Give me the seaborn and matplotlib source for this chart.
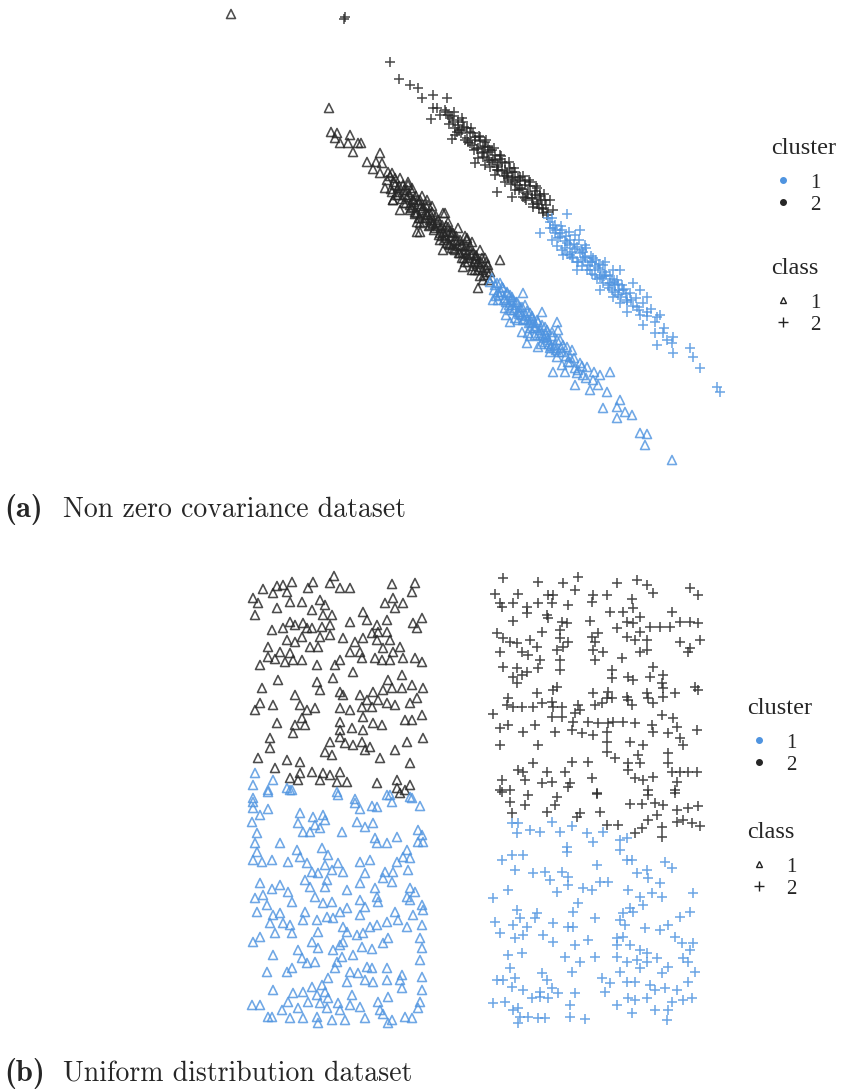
import numpy as np
import pandas as pd
import matplotlib
matplotlib.use("Agg")
import matplotlib.pyplot as plt
from matplotlib.lines import Line2D
import seaborn as sns

# ---- (a) non zero covariance dataset, (x, y) pairs ----
a_class1_cluster2 = [
    (231, 14), (329, 108), (331, 132), (337, 133), (335, 138), (340, 143), (350, 135), (348, 143),
    (358, 143), (361, 143), (353, 152), (380, 153), (367, 162), (376, 162), (382, 163), (373, 169),
    (380, 173), (388, 172), (392, 173), (387, 180), (400, 178), (408, 182), (398, 188), (407, 190),
    (393, 200), (404, 203), (413, 200), (420, 200), (410, 210), (417, 213), (428, 215), (443, 213),
    (433, 223), (420, 223), (417, 232), (448, 227), (453, 233), (467, 238), (393, 200), (413, 207),
    (445, 213), (417, 222), (430, 220), (420, 232), (440, 233), (447, 243), (467, 240), (443, 250),
    (460, 253), (473, 253), (463, 267), (480, 267), (500, 260), (490, 272), (478, 288), (483, 280),
    (405, 195), (412, 192), (410, 205), (418, 200), (422, 210), (428, 205), (425, 218), (432, 212),
    (438, 220), (435, 228), (442, 225), (448, 222), (445, 235), (452, 232), (455, 240), (458, 228),
    (462, 245), (465, 236), (470, 250), (472, 242), (468, 258), (476, 255), (480, 250), (478, 262),
    (485, 258), (483, 270), (488, 265), (475, 270), (465, 262), (455, 250), (450, 245), (440, 240),
    (430, 225), (420, 218), (415, 212), (398, 195), (395, 185), (408, 185), (392, 192), (385, 188),
    (400, 210), (390, 176), (391, 189), (394, 182), (396, 195), (399, 186), (402, 199), (404, 190),
    (406, 203), (409, 195), (411, 208), (413, 199), (415, 214), (418, 204), (419, 218), (423, 208),
    (424, 222), (427, 214), (429, 226), (432, 218), (434, 230), (437, 222), (439, 235), (441, 228),
    (444, 240), (447, 232), (449, 244), (451, 236), (454, 249), (457, 241), (459, 253), (461, 246),
    (464, 258), (466, 250), (468, 262), (471, 255), (473, 266), (476, 259), (478, 270), (481, 262),
    (484, 275), (486, 268), (489, 280), (446, 226), (436, 216), (426, 206), (416, 196), (456, 236),
    (466, 246), (476, 256), (486, 262),
    (395, 178), (398, 192), (403, 185), (407, 197), (412, 188), (414, 202), (421, 206), (426, 212),
    (431, 215), (433, 224), (438, 226), (443, 232), (446, 238), (450, 232), (453, 244), (458, 246),
    (460, 240), (463, 252), (467, 254), (470, 246), (474, 262), (477, 264), (482, 258), (487, 272),
    (480, 276), (472, 270), (462, 258), (452, 248), (442, 236), (432, 206), (422, 196), (427, 200),
]
a_class1_cluster1 = [
    (490, 282), (500, 283), (493, 300), (507, 293), (513, 300), (523, 293), (510, 310), (520, 307),
    (530, 313), (542, 312), (510, 322), (523, 320), (533, 323), (557, 322), (540, 330), (522, 332),
    (528, 333), (547, 337), (558, 330), (560, 340), (527, 343), (538, 347), (550, 348), (567, 347),
    (557, 357), (570, 357), (580, 363), (562, 365), (553, 372), (565, 372), (577, 373), (587, 367),
    (583, 375), (593, 380), (600, 375), (610, 372), (575, 385), (590, 390), (607, 392), (620, 400),
    (603, 408), (617, 407), (625, 412), (632, 415), (617, 418), (640, 433), (647, 434), (645, 445),
    (672, 460), (495, 285), (498, 292), (503, 288), (505, 298), (510, 295), (512, 305), (516, 302),
    (518, 312), (522, 315), (525, 305), (528, 320), (532, 318), (535, 328), (538, 322), (543, 335),
    (545, 327), (548, 340), (552, 332), (555, 345), (550, 352), (545, 342), (535, 335), (530, 328),
    (515, 318), (505, 308), (498, 300), (562, 352), (568, 362), (572, 350), (575, 368),
    (492, 278), (494, 290), (497, 283), (499, 295), (502, 287), (504, 300), (507, 292), (509, 305),
    (512, 297), (514, 310), (517, 302), (519, 314), (522, 307), (524, 319), (527, 311), (529, 323),
    (532, 316), (534, 328), (537, 320), (539, 333), (542, 325), (544, 338), (547, 330), (549, 344),
    (552, 336), (554, 348), (557, 340), (559, 352), (563, 345), (566, 356), (570, 362), (574, 358),
    (578, 370), (582, 366), (586, 378), (594, 372), (598, 385), (506, 315), (518, 320), (530, 336),
    (541, 344), (496, 296), (501, 292), (506, 302), (511, 300), (515, 308), (520, 312), (526, 316),
    (531, 322), (536, 326), (540, 336), (546, 334), (551, 346), (556, 350), (561, 348),
]
a_class2_cluster2 = [
    (344, 19), (345, 17), (390, 62), (399, 79), (410, 85), (418, 88), (422, 98), (433, 95), (447, 98),
    (433, 108), (431, 119), (437, 108), (448, 115), (453, 122), (462, 118), (467, 128), (457, 132),
    (473, 133), (480, 137), (452, 139), (470, 143), (483, 147), (488, 147), (500, 155), (483, 157),
    (493, 160), (475, 163), (490, 167), (497, 170), (507, 173), (513, 177), (520, 180), (537, 188),
    (497, 192), (512, 197), (523, 197), (550, 200), (533, 207), (543, 213), (553, 210),
    (475, 140), (478, 148), (485, 142), (488, 152), (492, 150), (495, 160), (498, 165), (502, 162),
    (505, 170), (508, 178), (512, 172), (515, 182), (518, 178), (520, 188), (525, 185), (528, 192),
    (530, 182), (532, 198), (535, 195), (538, 202), (540, 194), (542, 208), (546, 205), (525, 198),
    (515, 190), (505, 182), (495, 175), (485, 165), (478, 158), (462, 130), (458, 125), (465, 140),
    (445, 110), (440, 115), (455, 135),
    (446, 112), (449, 124), (452, 116), (455, 128), (458, 120), (461, 133), (464, 127), (467, 138),
    (470, 132), (472, 145), (475, 137), (477, 149), (480, 141), (482, 153), (485, 146), (487, 158),
    (490, 150), (492, 162), (495, 155), (497, 167), (500, 159), (502, 171), (505, 163), (507, 176),
    (510, 168), (512, 180), (515, 172), (517, 185), (520, 177), (522, 189), (525, 181), (527, 194),
    (530, 186), (532, 198), (535, 191), (537, 204), (540, 196), (543, 209), (545, 200), (548, 212),
    (450, 118), (454, 112), (459, 130), (463, 122), (468, 142), (471, 128), (474, 150), (479, 136),
    (484, 152), (486, 140), (489, 160), (494, 148), (498, 170), (501, 156), (504, 176), (509, 162),
    (511, 184), (514, 168), (519, 190), (523, 176), (526, 200), (529, 180), (533, 204), (536, 186),
    (539, 208), (544, 194), (547, 215), (541, 200),
]
a_class2_cluster1 = [
    (548, 218), (567, 214), (540, 233), (553, 228), (560, 233), (580, 230), (567, 243), (577, 247),
    (563, 255), (573, 257), (583, 260), (593, 258), (577, 270), (590, 270), (603, 265), (613, 270),
    (620, 270), (600, 277), (610, 283), (617, 280), (623, 290), (633, 283), (640, 290), (613, 297),
    (620, 303), (627, 300), (637, 307), (647, 297), (627, 312), (640, 315), (647, 312), (657, 317),
    (643, 325), (655, 333), (663, 333), (673, 337), (667, 340), (657, 345), (672, 343), (673, 353),
    (690, 348), (693, 357), (700, 368), (717, 387), (720, 392),
    (550, 222), (555, 225), (558, 238), (562, 230), (565, 248), (570, 240), (572, 252), (575, 235),
    (578, 262), (582, 250), (585, 258), (588, 265), (592, 262), (595, 275), (598, 268), (602, 278),
    (605, 272), (608, 285), (612, 290), (615, 285), (618, 295), (622, 285), (585, 245), (570, 255),
    (600, 290), (605, 262),
    (550, 228), (552, 240), (555, 233), (557, 246), (560, 237), (562, 250), (565, 241), (567, 254),
    (570, 245), (572, 258), (575, 249), (577, 262), (580, 253), (582, 266), (585, 257), (587, 270),
    (590, 262), (592, 274), (595, 266), (597, 279), (600, 270), (603, 283), (606, 275), (609, 288),
    (612, 279), (615, 292), (618, 284), (621, 297), (624, 289), (627, 302), (630, 293), (633, 306),
    (636, 298), (639, 310), (643, 303), (647, 316), (651, 309), (655, 322), (660, 315), (664, 328),
    (552, 218), (556, 230), (561, 226), (566, 236), (569, 232), (574, 244), (579, 240), (583, 252),
    (586, 248), (591, 256), (596, 260), (599, 264), (604, 276), (610, 276), (614, 282), (619, 290),
    (626, 294), (631, 300),
]

# ---- (b) uniform distribution dataset ----
b_class1_cluster2 = [
    (334, 576), (292, 582), (283, 585), (277, 586), (263, 589), (313, 582), (308, 588), (330, 583),
    (340, 588), (350, 588), (392, 584), (415, 583), (412, 592), (253, 598), (273, 593), (287, 592),
    (290, 602), (302, 602), (320, 600), (325, 605), (277, 608), (255, 615), (258, 603), (312, 610),
    (323, 615), (332, 615), (385, 603), (393, 598), (403, 603), (395, 608), (363, 612), (367, 620),
    (350, 622), (387, 620), (422, 618), (413, 623), (417, 628), (290, 622), (295, 625), (303, 623),
    (307, 628), (312, 628), (322, 627), (330, 625), (272, 630), (283, 628), (377, 625), (378, 632),
    (372, 633), (387, 632), (287, 640), (295, 642), (302, 637), (320, 637), (330, 635), (343, 638),
    (355, 642), (363, 638), (377, 640), (390, 640), (268, 647), (310, 647), (318, 647), (350, 652),
    (360, 652), (383, 648), (393, 652), (400, 647), (268, 657), (280, 652), (290, 653), (275, 659),
    (285, 662), (293, 660), (302, 660), (260, 665), (317, 665), (335, 665), (340, 660), (362, 658),
    (375, 658), (382, 660), (390, 660), (403, 658), (415, 658), (422, 662), (353, 672), (402, 675),
    (278, 680), (317, 682), (333, 678), (388, 680), (412, 685), (262, 688), (295, 695), (320, 690),
    (340, 692), (343, 695), (360, 695), (373, 692), (383, 690), (392, 688), (402, 688), (423, 688),
    (367, 700), (378, 700), (387, 703), (395, 705), (410, 703), (417, 698), (260, 703), (273, 705),
    (300, 705), (307, 710), (315, 708), (340, 708), (350, 710), (362, 707), (372, 707), (255, 710),
    (422, 715), (405, 720), (412, 720), (363, 717), (302, 718), (277, 723), (295, 725), (305, 725),
    (340, 722), (352, 728), (363, 730), (373, 723), (382, 725), (340, 730), (293, 733), (270, 738),
    (330, 742), (340, 737), (345, 743), (353, 745), (362, 742), (370, 747), (365, 750), (395, 750),
    (407, 742), (423, 738), (270, 748), (325, 752), (332, 755), (258, 758), (287, 760), (300, 762),
    (380, 758), (410, 763), (275, 768), (300, 773), (312, 772), (323, 773), (330, 775), (340, 772),
    (290, 778), (298, 780), (320, 780), (337, 782), (347, 782), (377, 783), (397, 780), (410, 785),
    (397, 788), (405, 790), (400, 793),
]
b_class1_cluster1 = [
    (255, 773), (253, 785), (273, 780), (268, 790), (287, 788), (292, 790), (337, 792), (387, 795),
    (410, 797), (253, 798), (355, 799), (268, 792), (290, 790), (338, 795), (390, 795), (412, 798),
    (253, 802), (253, 808), (268, 809), (252, 822), (260, 815), (300, 813), (298, 823), (313, 817),
    (323, 815), (325, 820), (355, 803), (360, 809), (372, 806), (377, 807), (357, 822), (365, 827),
    (373, 823), (420, 806), (392, 802), (257, 833), (303, 832), (310, 832), (315, 825), (320, 828),
    (342, 832), (375, 838), (377, 843), (387, 843), (397, 837), (418, 830), (422, 835), (418, 842),
    (423, 842), (255, 843), (257, 852), (280, 843), (297, 850), (322, 848), (328, 855), (407, 850),
    (403, 857), (253, 860), (262, 862), (272, 860), (288, 862), (300, 857), (307, 863), (325, 865),
    (338, 863), (360, 862), (370, 860), (397, 862), (410, 858), (312, 872), (318, 873), (332, 870),
    (343, 872), (365, 873), (385, 872), (393, 872), (408, 870), (260, 883), (280, 885), (305, 880),
    (327, 880), (360, 883), (383, 878), (392, 882), (272, 889), (288, 892), (310, 887), (325, 887),
    (347, 890), (375, 888), (410, 888), (415, 892), (255, 898), (263, 895), (292, 902), (315, 897),
    (323, 903), (332, 902), (360, 900), (377, 897), (378, 902), (407, 897), (410, 900), (267, 905),
    (365, 907), (422, 905), (257, 912), (273, 915), (280, 913), (305, 912), (327, 917), (340, 912),
    (347, 908), (360, 915), (395, 912), (413, 915), (423, 910), (270, 923), (283, 923), (290, 925),
    (303, 920), (317, 920), (333, 918), (343, 927), (370, 927), (377, 925), (387, 922), (398, 920),
    (407, 927), (422, 925), (275, 933), (292, 933), (318, 932), (347, 932), (357, 935), (363, 933),
    (253, 942), (260, 937), (312, 942), (340, 945), (343, 942), (362, 947), (372, 949), (383, 943),
    (388, 938), (420, 938), (422, 948), (298, 950), (318, 948), (333, 950), (273, 955), (302, 958),
    (307, 963), (315, 962), (337, 962), (342, 957), (353, 955), (420, 960), (267, 972), (287, 972),
    (292, 968), (335, 968), (350, 972), (358, 973), (367, 967), (372, 968), (387, 968), (402, 975),
    (422, 977), (328, 978), (347, 982), (365, 980), (373, 982), (387, 980), (400, 980), (273, 990),
    (293, 993), (303, 992), (312, 987), (322, 985), (317, 995), (325, 992), (352, 995), (402, 988),
    (422, 990), (252, 1005), (260, 1005), (288, 1002), (308, 1002), (320, 1003), (328, 998),
    (338, 1003), (350, 1005), (378, 1002), (388, 997), (420, 1002), (282, 1010), (298, 1008),
    (327, 1008), (340, 1010), (360, 1007), (380, 1010), (418, 1008), (268, 1017), (272, 1017),
    (290, 1018), (303, 1018), (317, 1017), (318, 1023), (332, 1020), (345, 1020), (365, 1018),
    (383, 1014), (388, 1023), (392, 1020), (405, 1017), (412, 1018),
]
b_class2_cluster2 = [
    (503, 578), (538, 582), (563, 583), (578, 577), (575, 590), (617, 583), (637, 580), (647, 585),
    (653, 593), (690, 588), (698, 595), (495, 594), (518, 594), (500, 603), (502, 607), (513, 603),
    (527, 607), (527, 613), (538, 603), (548, 595), (553, 595), (552, 603), (568, 605), (593, 595),
    (592, 602), (607, 595), (632, 599), (633, 608), (610, 612), (623, 612), (672, 612), (513, 621),
    (547, 615), (548, 618), (562, 622), (567, 623), (590, 621), (627, 622), (633, 623), (640, 617),
    (650, 627), (660, 627), (670, 627), (680, 622), (690, 622), (698, 623), (542, 632), (560, 630),
    (617, 628), (640, 632), (497, 633), (503, 638), (510, 642), (517, 643), (530, 640), (537, 647),
    (560, 638), (568, 642), (592, 637), (598, 633), (595, 642), (627, 637), (635, 640), (647, 640),
    (680, 642), (700, 640), (690, 648), (500, 652), (522, 652), (528, 655), (557, 650), (563, 647),
    (593, 650), (603, 652), (640, 652), (647, 650), (688, 652), (540, 660), (560, 660), (595, 660),
    (622, 658), (503, 667), (517, 668), (527, 672), (538, 668), (560, 670), (612, 670), (653, 667),
    (513, 677), (522, 675), (612, 678), (628, 677), (633, 680), (650, 677), (663, 675), (662, 683),
    (517, 683), (557, 687), (553, 690), (537, 693), (593, 693), (608, 692), (607, 698), (627, 697),
    (647, 693), (648, 698), (663, 688), (675, 693), (695, 687), (698, 690), (508, 698), (507, 705),
    (513, 707), (522, 707), (533, 707), (542, 703), (552, 702), (553, 707), (562, 707), (578, 705),
    (595, 705), (602, 703), (612, 698), (628, 700), (632, 705), (653, 703), (663, 697), (493, 714),
    (552, 717), (562, 717), (575, 713), (580, 710), (662, 715), (673, 718), (500, 728), (508, 725),
    (523, 732), (535, 725), (555, 732), (572, 730), (573, 722), (588, 722), (598, 723), (608, 723),
    (613, 722), (623, 722), (635, 723), (652, 725), (653, 732), (668, 733), (677, 727), (697, 730),
    (582, 733), (593, 735), (607, 732), (500, 745), (538, 745), (607, 742), (630, 742), (643, 745),
    (680, 738), (683, 745), (607, 752), (615, 758), (638, 755), (668, 753), (533, 763), (572, 762),
    (588, 762), (628, 763), (640, 763), (668, 763), (518, 770), (523, 772), (547, 772), (565, 772),
    (628, 770), (672, 772), (680, 772), (688, 772), (697, 772), (502, 780), (525, 780), (542, 783),
    (552, 782), (570, 783), (592, 778), (635, 778), (643, 780), (653, 777), (677, 782), (500, 790),
    (510, 790), (528, 795), (557, 797), (568, 787), (597, 793), (648, 790), (675, 790), (502, 792),
    (510, 802), (525, 805), (555, 805), (547, 812), (512, 813), (580, 813), (577, 817), (600, 812),
    (597, 794), (607, 825), (618, 825), (630, 804), (642, 804), (648, 795), (655, 803), (663, 805),
    (675, 793), (677, 810), (688, 808), (698, 806), (648, 820), (657, 815), (677, 822), (683, 820),
    (692, 823), (700, 826), (642, 828), (635, 833), (662, 827), (662, 837),
]
b_class2_cluster1 = [
    (512, 823), (518, 823), (517, 833), (530, 830), (540, 832), (552, 822), (560, 832), (572, 826),
    (587, 833), (593, 842), (603, 832), (567, 847), (567, 852), (620, 840), (627, 838), (620, 850),
    (502, 860), (512, 855), (523, 855), (597, 865), (627, 860), (632, 860), (665, 862), (672, 868),
    (515, 870), (533, 873), (545, 872), (562, 872), (568, 877), (550, 880), (600, 882), (608, 882),
    (637, 873), (647, 870), (648, 878), (660, 883), (508, 890), (557, 892), (568, 885), (583, 888),
    (592, 890), (628, 890), (640, 897), (652, 893), (662, 897), (693, 893), (493, 898), (578, 903),
    (630, 908), (643, 905), (517, 910), (537, 913), (573, 912), (623, 913), (633, 912), (690, 912),
    (520, 918), (535, 918), (595, 918), (620, 920), (680, 917), (495, 922), (513, 925), (527, 927),
    (553, 923), (568, 927), (573, 927), (625, 925), (645, 928), (660, 930), (668, 925), (500, 933),
    (515, 938), (523, 935), (543, 935), (553, 942), (588, 940), (617, 938), (623, 937), (675, 937),
    (682, 943), (693, 943), (575, 945), (617, 945), (630, 945), (690, 950), (508, 955), (522, 953),
    (565, 957), (595, 957), (617, 957), (640, 950), (647, 953), (657, 958), (683, 958), (580, 962),
    (627, 962), (637, 960), (647, 962), (688, 962), (510, 968), (572, 972), (620, 972), (640, 968),
    (668, 967), (695, 972), (542, 973), (497, 980), (503, 980), (515, 978), (547, 980), (602, 978),
    (627, 982), (635, 982), (662, 973), (610, 983), (650, 985), (688, 982), (512, 987), (523, 990),
    (552, 988), (558, 993), (540, 992), (575, 993), (605, 992), (655, 990), (665, 988), (677, 990),
    (532, 998), (540, 997), (548, 998), (628, 998), (635, 1000), (647, 998), (672, 1002), (683, 1000),
    (692, 998), (493, 1003), (505, 1002), (570, 1005), (617, 1005), (513, 1010), (518, 1008),
    (655, 1010), (668, 1010), (520, 1017), (528, 1017), (538, 1018), (545, 1018), (570, 1017),
    (585, 1019), (632, 1013), (667, 1020), (518, 1023),
]

cluster_colors = {1: "#4f94e0", 2: "#262626"}
cluster_labels = [1, 2]
class_labels = [1, 2]
caption_a = ["(a)", "Non zero covariance dataset"]
caption_b = ["(b)", "Uniform distribution dataset"]


def to_frame(groups):
    rows = []
    for (cls, clu), pts in groups.items():
        for x, y in pts:
            rows.append({"x": x, "y": y, "class": cls, "cluster": clu})
    return pd.DataFrame(rows)


df_a = to_frame({(1, 2): a_class1_cluster2, (1, 1): a_class1_cluster1,
                 (2, 2): a_class2_cluster2, (2, 1): a_class2_cluster1})
df_b = to_frame({(1, 2): b_class1_cluster2, (1, 1): b_class1_cluster1,
                 (2, 2): b_class2_cluster2, (2, 1): b_class2_cluster1})

sns.set_style("white")
plt.rcParams["font.family"] = ["Liberation Serif", "DejaVu Serif"]
W, H = 845, 1091
fig = plt.figure(figsize=(W / 100, H / 100), dpi=100)


def panel(df, top, bottom, left, right):
    ax = fig.add_axes([left / W, 1 - bottom / H, (right - left) / W, (bottom - top) / H])
    tri = df[df["class"] == 1]
    sns.scatterplot(data=tri, x="x", y="y", hue="cluster", palette=cluster_colors,
                    marker="^", s=42, linewidth=1.15, alpha=0.82, legend=False, ax=ax)
    coll = ax.collections[-1]
    fc = coll.get_facecolors()
    coll.set_edgecolors(fc)
    coll.set_facecolors("none")
    plus = df[df["class"] == 2]
    sns.scatterplot(data=plus, x="x", y="y", hue="cluster", palette=cluster_colors,
                    marker="+", s=60, linewidth=1.15, alpha=0.82, legend=False, ax=ax)
    ax.set_xlim(left, right)
    ax.set_ylim(bottom, top)
    ax.set_axis_off()
    return ax


ax_a = panel(df_a, 0, 470, 180, 740)
ax_b = panel(df_b, 565, 1035, 230, 730)


def legends(x_left, y_cluster, y_class):
    # titles as text, entries as handle-only legends
    fig.text(x_left / W, 1 - y_cluster / H, "cluster", fontsize=17.5, va="center")
    fig.text(x_left / W, 1 - y_class / H, "class", fontsize=17.5, va="center")
    h_clu = [Line2D([], [], marker="o", ls="", color=cluster_colors[c], markersize=4) for c in cluster_labels]
    h_cls = [Line2D([], [], marker="^", ls="", mfc="none", mec="#222222", markersize=5, mew=1),
             Line2D([], [], marker="+", ls="", color="#222222", markersize=7, mew=1)]
    kw = dict(frameon=False, loc="upper left", fontsize=15, handletextpad=0.7,
              labelspacing=0.12, handlelength=1.2, borderaxespad=0, borderpad=0)
    fig.legend(h_clu, [str(c) for c in cluster_labels],
               bbox_to_anchor=(x_left / W, 1 - (y_cluster + 25) / H), **kw)
    fig.legend(h_cls, [str(c) for c in class_labels],
               bbox_to_anchor=(x_left / W, 1 - (y_class + 25) / H), **kw)


legends(771, 148, 268)
legends(747, 708, 832)


def caption(y, parts):
    fig.text(4 / W, 1 - y / H, parts[0], family="cmb10", fontsize=22, va="baseline")
    fig.text(63 / W, 1 - y / H, parts[1], family="cmr10", fontsize=20, va="baseline")


caption(517, caption_a)
caption(1081, caption_b)

fig.savefig("out.png", dpi=100)
